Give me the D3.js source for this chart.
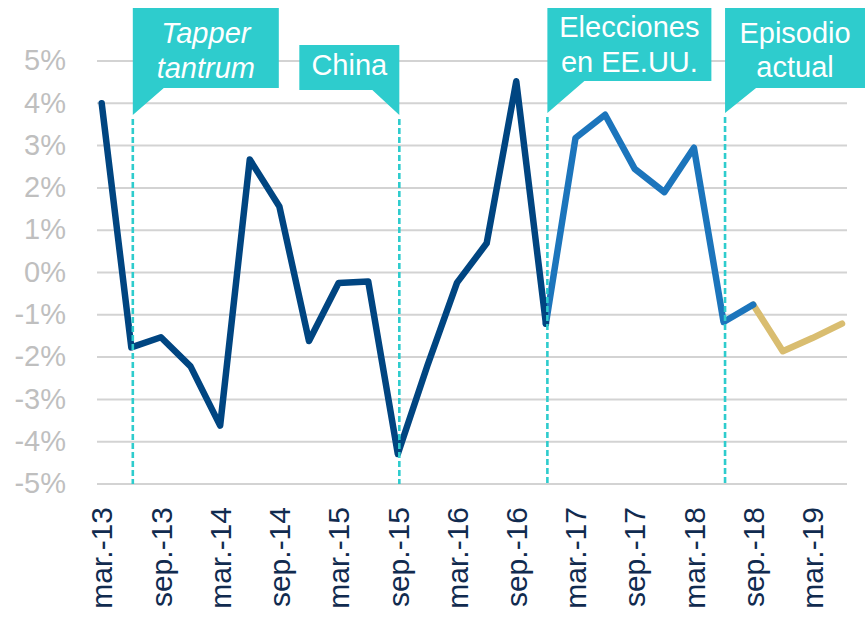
<!DOCTYPE html>
<html>
<head>
<meta charset="utf-8">
<script src="https://cdn.jsdelivr.net/npm/d3@7/dist/d3.min.js"></script>
<style>
  html, body { margin: 0; padding: 0; background: #fff; }
  svg { display: block; font-family: "Liberation Sans", Arial, sans-serif; }
</style>
</head>
<body>
<svg id="chart" width="865" height="617"></svg>
<script>
// ---- data ----
const quarters = ["mar.-13","jun.-13","sep.-13","dic.-13","mar.-14","jun.-14","sep.-14","dic.-14",
  "mar.-15","jun.-15","sep.-15","dic.-15","mar.-16","jun.-16","sep.-16","dic.-16",
  "mar.-17","jun.-17","sep.-17","dic.-17","mar.-18","jun.-18","sep.-18","dic.-18",
  "mar.-19","jun.-19"];
const tickLabels = ["mar.-13","sep.-13","mar.-14","sep.-14","mar.-15","sep.-15","mar.-16",
  "sep.-16","mar.-17","sep.-17","mar.-18","sep.-18","mar.-19"];
const yTicks = [-5,-4,-3,-2,-1,0,1,2,3,4,5];

const pastQuarters = quarters.slice(0, 16);
const pastValues = [4.0,-1.77,-1.53,-2.22,-3.62,2.67,1.56,-1.62,-0.25,-0.21,-4.29,-2.2,-0.24,0.69,4.52,-1.21];
const electionQuarters = quarters.slice(15, 23);
const electionValues = [-1.21,3.18,3.73,2.45,1.90,2.95,-1.17,-0.76];
const currentQuarters = quarters.slice(22, 26);
const currentValues = [-0.76,-1.86,-1.55,-1.21];

const eventQuarters = ["jun.-13","sep.-15","dic.-16","jun.-18"];
const eventLabels = [["Tapper","tantrum"],["China"],["Elecciones","en EE.UU."],["Episodio","actual"]];

// ---- layout / style ----
const svg = d3.select("#chart");
const x = d3.scalePoint().domain(quarters).range([101.7, 842]);
const y = d3.scaleLinear().domain([-5, 5]).range([484, 61]);
const gridX0 = 97, gridX1 = 847;
const teal = "#2ecccd";

// gridlines
svg.append("g").selectAll("line").data(yTicks).join("line")
  .attr("x1", gridX0).attr("x2", gridX1)
  .attr("y1", d => y(d)).attr("y2", d => y(d))
  .attr("stroke", "#d3d3d3").attr("stroke-width", 2);

// y axis labels
const yAxis = d3.axisLeft(y).tickValues(yTicks).tickFormat(d => d + "%").tickSize(0).tickPadding(0);
const gy = svg.append("g").attr("transform", "translate(66,0)").call(yAxis);
gy.select(".domain").remove();
gy.selectAll("text").attr("fill", "#bfbfbf").attr("font-size", 29)
  .attr("font-family", "Liberation Sans, Arial, sans-serif").attr("dy", "0.3em");

// x axis labels
const xAxis = d3.axisBottom(x).tickValues(tickLabels).tickSize(0).tickPadding(0);
const gx = svg.append("g").attr("transform", "translate(0,507)").call(xAxis);
gx.select(".domain").remove();
gx.selectAll("text")
  .attr("fill", "#112b4f").attr("font-size", 30)
  .attr("font-family", "Liberation Sans, Arial, sans-serif")
  .attr("transform", "rotate(-90)")
  .attr("text-anchor", "end")
  .attr("x", 0).attr("y", 0).attr("dy", "0.34em");

// lines
const line = d3.line().x(d => x(d[0])).y(d => y(d[1]));
const series = [
  {q: currentQuarters, v: currentValues, color: "#d9bd70"},
  {q: electionQuarters, v: electionValues, color: "#1c75bc"},
  {q: pastQuarters, v: pastValues, color: "#004581"}
];
series.forEach(s => {
  svg.append("path")
    .datum(d3.zip(s.q, s.v))
    .attr("d", line)
    .attr("fill", "none")
    .attr("stroke", s.color)
    .attr("stroke-width", 6.5)
    .attr("stroke-linejoin", "round")
    .attr("stroke-linecap", "round");
});

// callouts: box geometry relative to the event line
const boxes = [
  {side: "left", w: 146, top: 8, bottom: 88, tail: 31, tip: 115, lines: [43, 78], italic: true},
  {side: "right", w: 100, top: 45, bottom: 90, tail: 27, tip: 115, lines: [75], italic: false},
  {side: "left", w: 164, top: 8, bottom: 81, tail: 37, tip: 113, lines: [37, 72], italic: false},
  {side: "left", w: 140, top: 8, bottom: 88, tail: 31, tip: 113, lines: [43, 77], italic: false}
];

eventQuarters.forEach((q, i) => {
  const b = boxes[i];
  const ex = x(q) + 1.5;
  const g = svg.append("g");
  // dashed line
  g.append("line")
    .attr("x1", ex).attr("x2", ex).attr("y1", b.tip + 4).attr("y2", 484)
    .attr("stroke", teal).attr("stroke-width", 2.6).attr("stroke-dasharray", "6,3");
  const x0 = b.side === "left" ? ex : ex - b.w;
  const x1 = x0 + b.w;
  let path;
  if (b.side === "left") {
    path = `M${x0},${b.top}H${x1}V${b.bottom}H${x0 + b.tail}L${x0},${b.tip}Z`;
  } else {
    path = `M${x0},${b.top}H${x1}V${b.tip}L${x1 - b.tail},${b.bottom}H${x0}Z`;
  }
  g.append("path").attr("d", path).attr("fill", teal);
  eventLabels[i].forEach((t, j) => {
    g.append("text")
      .attr("x", (x0 + Math.min(x1, 867)) / 2)
      .attr("y", b.lines[j])
      .attr("text-anchor", "middle")
      .attr("fill", "#ffffff")
      .attr("font-size", 29)
      .attr("font-style", b.italic ? "italic" : "normal")
      .text(t);
  });
});
</script>
</body>
</html>
